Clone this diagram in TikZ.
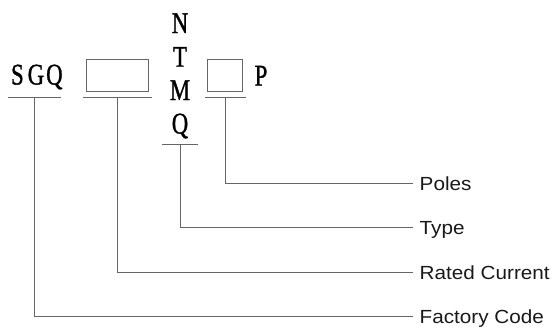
\documentclass[tikz,border=0pt]{standalone}
\usepackage{fontspec}
\usepackage{graphicx}
\setmainfont[FakeStretch=1.09]{Liberation Sans}
\newfontfamily\codefont[FakeBold=1.2]{Liberation Serif}
\usetikzlibrary{positioning}

\colorlet{linie}{black!60}
\tikzset{
  code/.style={font=\codefont\fontsize{30}{30}\selectfont,inner sep=0pt,anchor=base},
  feld/.style={rectangle,draw=linie,line width=1pt,inner sep=0pt,minimum height=32pt},
  txt/.style={font=\fontsize{19}{19}\selectfont,text=black!90,anchor=west,inner xsep=6.5pt,inner ysep=0pt,text height=13.6pt,text depth=0pt},
  leit/.style={draw=linie,line width=1pt}
}
% schmale zeichen mit fester breite
\newcommand\zeichen[1]{\makebox[18.5pt]{\scalebox{0.76}[1]{#1}}}

\begin{document}
\begin{tikzpicture}[x=1pt,y=-1pt]
\useasboundingbox (0,0) rectangle (555,332);

% typ-code
\node[code] (sgq) at (35.9,84.5) {\zeichen S\zeichen G\zeichen Q};
\node[feld,minimum width=62pt] (f1) at (117.5,75.2) {};
\node[code] (n) at (180,33) {\zeichen N};
\node[code] (t) at (180,66.7) {\zeichen T};
\node[code] (m) at (180,100) {\zeichen M};
\node[code] (q) at (180,133.5) {\zeichen Q};
\node[feld,minimum width=35pt] (f2) at (225.3,75.3) {};
\node[code] (p) at (261,85.5) {\zeichen P};

% unterstriche
\coordinate (u1) at (34.5,97.7);
\coordinate (u2) at (117,97.7);
\coordinate (u3) at (180,144.3);
\coordinate (u4) at (225.5,97.7);
\draw[leit] ([xshift=-26.2pt]u1) -- ([xshift=26.2pt]u1);
\draw[leit] ([xshift=-34pt]u2) -- ([xshift=35pt]u2);
\draw[leit] ([xshift=-18.3pt]u3) -- ([xshift=18.3pt]u3);
\draw[leit] ([xshift=-20.5pt]u4) -- ([xshift=20.5pt]u4);

% beschriftung
\node[txt] (pol) at (413,183.3) {Poles};
\node[txt] (typ) at (413,227.7) {Type};
\node[txt] (rat) at (413,272.3) {Rated Current};
\node[txt] (fab) at (413,316.8) {Factory Code};

\draw[leit] (u4) |- (pol.west);
\draw[leit] (u3) |- (typ.west);
\draw[leit] (u2) |- (rat.west);
\draw[leit] (u1) |- (fab.west);

\end{tikzpicture}
\end{document}
